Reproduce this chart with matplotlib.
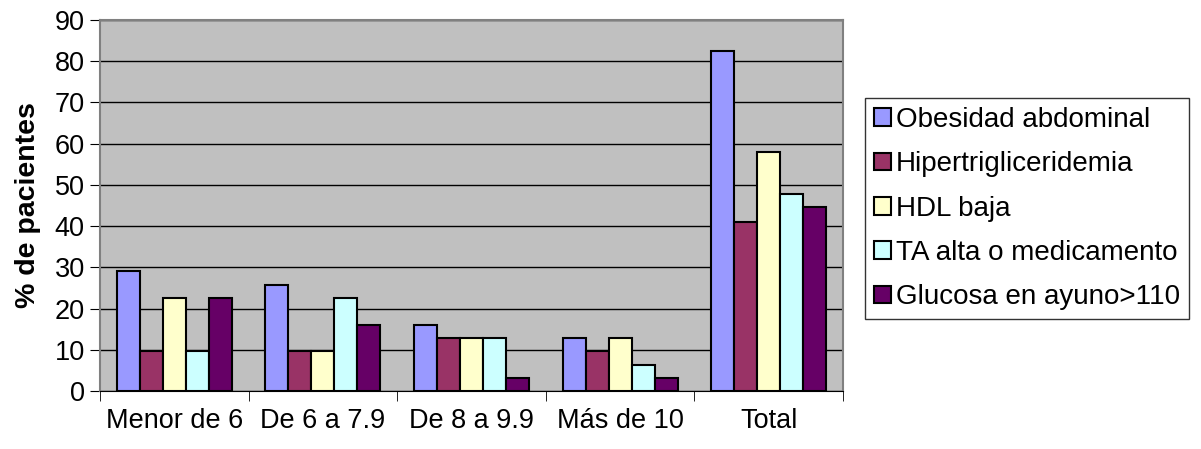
import matplotlib.pyplot as plt
import numpy as np

plt.rcParams['font.family'] = ['Liberation Sans', 'DejaVu Sans']

grupos = ['Menor de 6', 'De 6 a 7.9', 'De 8 a 9.9', 'Más de 10', 'Total']
series = ['Obesidad abdominal', 'Hipertrigliceridemia', 'HDL baja',
          'TA alta o medicamento', 'Glucosa en ayuno>110']
obesidad = [29.0, 25.8, 16.1, 12.9, 82.6]
hipertrig = [9.7, 9.7, 12.9, 9.7, 41.1]
hdl = [22.6, 9.7, 12.9, 12.9, 58.0]
ta_alta = [9.7, 22.6, 12.9, 6.3, 47.8]
glucosa = [22.6, 16.1, 3.2, 3.2, 44.7]
colores = ['#9999FF', '#993366', '#FFFFCC', '#CCFFFF', '#660066']

valores = [obesidad, hipertrig, hdl, ta_alta, glucosa]

fig = plt.figure(figsize=(12.01, 4.49), dpi=100)
ax = fig.add_axes([100 / 1201, 1 - 391 / 449, 743 / 1201, 371 / 449])
ax.set_facecolor('#C0C0C0')

x = np.arange(len(grupos))
ancho = 0.155
for i, (vals, nombre, c) in enumerate(zip(valores, series, colores)):
    ax.bar(x + (i - 2) * ancho, vals, ancho, color=c, edgecolor='black',
           linewidth=1.5, label=nombre, zorder=3)

ax.set_xlim(-0.5, len(grupos) - 0.5)
ax.set_ylim(0, 90)
ax.set_yticks(range(0, 91, 10))
ax.yaxis.grid(True, color='black', linewidth=1, zorder=1)
ax.set_axisbelow(True)

# category labels centred, tick marks on group boundaries
ax.set_xticks(x)
ax.set_xticklabels(grupos, fontsize=19.5)
ax.tick_params(axis='x', which='major', length=0, pad=12)
ax.set_xticks(np.arange(-0.5, len(grupos)), minor=True)
ax.tick_params(axis='x', which='minor', length=7, color='black')
ax.tick_params(axis='y', labelsize=19.5, length=7, color='black', pad=4)

for s in ['top', 'right', 'left']:
    ax.spines[s].set_color('#808080')
    ax.spines[s].set_linewidth(1.5)
ax.spines['bottom'].set_color('black')

ax.set_ylabel('% de pacientes', fontsize=20.5, fontweight='bold', labelpad=10)

leg = fig.legend(loc='upper left', bbox_to_anchor=(865 / 1201, 1 - 98 / 449),
                 fontsize=20, frameon=True, fancybox=False, edgecolor='black',
                 handlelength=0.6, handleheight=0.6, handletextpad=0.2,
                 labelspacing=0.66, borderpad=0.32, borderaxespad=0)
leg.get_frame().set_linewidth(1)

fig.savefig('out.png', dpi=100)
